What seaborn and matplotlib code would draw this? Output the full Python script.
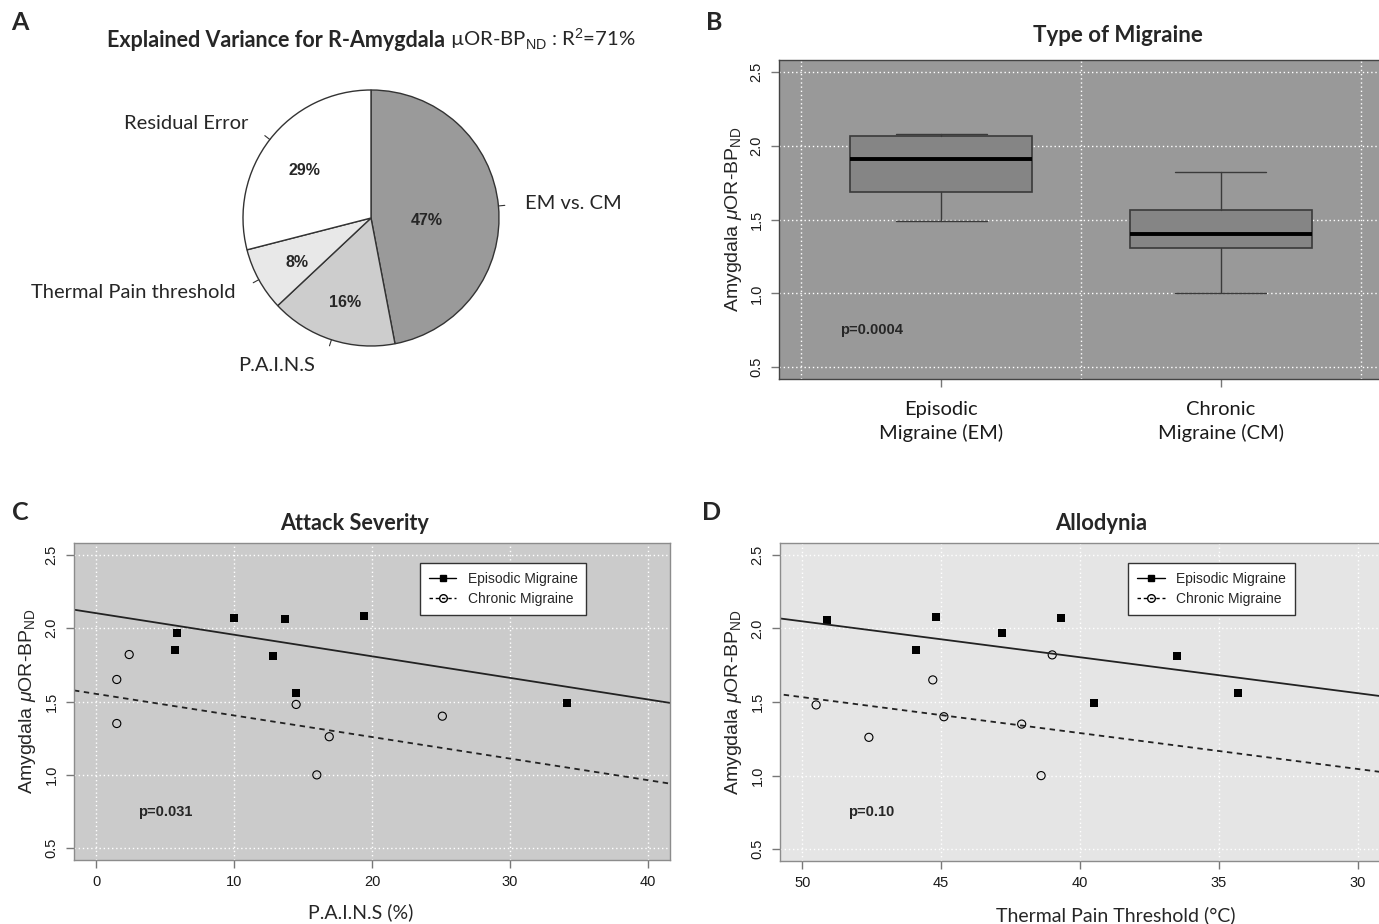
import numpy as np
import pandas as pd
import matplotlib
matplotlib.use("Agg")
import matplotlib.pyplot as plt
from matplotlib.lines import Line2D
import seaborn as sns

sns.set_style("white")
plt.rcParams['font.family'] = ['Liberation Sans', 'DejaVu Sans']
plt.rcParams['mathtext.fontset'] = 'custom'
plt.rcParams['mathtext.rm'] = 'Liberation Sans'
plt.rcParams['mathtext.it'] = 'Liberation Sans:italic'
plt.rcParams['mathtext.bf'] = 'Liberation Sans:bold'

# Panel A: explained variance of the model
pie_labels = ["EM vs. CM", "P.A.I.N.S", "Thermal Pain threshold", "Residual Error"]
pie_values = [47, 16, 8, 29]
pie_colors = ["#9a9a9a", "#cdcdcd", "#e8e8e8", "#ffffff"]

em_bp = [2.06, 1.85, 2.08, 1.97, 2.07, 1.49, 1.81, 1.56]
em_pains = [13.7, 5.7, 19.4, 5.9, 10.0, 34.1, 12.8, 14.5]
em_thermal = [49.1, 45.9, 45.2, 42.8, 40.7, 39.5, 36.5, 34.3]
cm_bp = [1.48, 1.26, 1.65, 1.40, 1.35, 1.82, 1.00]
cm_pains = [14.5, 16.9, 1.5, 25.1, 1.5, 2.4, 16.0]
cm_thermal = [49.5, 47.6, 45.3, 44.9, 42.1, 41.0, 41.4]

# fitted lines (intercept, slope) from the model
c_fit_em = (2.102, -0.0147)
c_fit_cm = (1.552, -0.0147)
d_fit_em = (0.828, 0.0244)
d_fit_cm = (0.313, 0.0244)

group_names = ["Episodic Migraine", "Chronic Migraine"]
box_ticklabels = ["Episodic\nMigraine (EM)", "Chronic\nMigraine (CM)"]
y_ticks = [0.5, 1.0, 1.5, 2.0, 2.5]

df = pd.DataFrame({
    "group": ["EM"] * len(em_bp) + ["CM"] * len(cm_bp),
    "bp": em_bp + cm_bp,
    "pains": em_pains + cm_pains,
    "thermal": em_thermal + cm_thermal,
})

W, H = 1379, 924
fig = plt.figure(figsize=(W / 100, H / 100), dpi=100)


def add_ax(l, t, r, b):
    return fig.add_axes([l / W, 1 - b / H, (r - l) / W, (b - t) / H])


def fivenum(v):
    # Tukey hinges, same as R's boxplot
    v = np.sort(np.asarray(v))
    n = len(v)
    n4 = np.floor((n + 3) / 2) / 2
    d = np.array([1, n4, (n + 1) / 2, n + 1 - n4, n]) - 1
    return 0.5 * (v[np.floor(d).astype(int)] + v[np.ceil(d).astype(int)])


def style_axes(ax, bg, spine, axw):
    ax.set_facecolor(bg)
    for s in ax.spines.values():
        s.set_visible(True)
        s.set_color(spine)
        s.set_linewidth(1)
    ax.set_axisbelow(True)
    ax.tick_params(axis='both', which='major', direction='out', length=6, width=1,
                   color='#777777', labelsize=10.5, labelcolor='#1a1a1a', pad=5,
                   bottom=True, left=True)
    ax.tick_params(axis='y', labelrotation=90)
    ax.set_ylim(0.42, 2.58)
    ax.set_yticks(y_ticks)
    ax.set_yticklabels([f"{t:.1f}" for t in y_ticks])
    for lab in ax.get_yticklabels():
        lab.set_va('center')
    ax.set_ylabel(r"Amygdala $\mu$OR-BP$_{\mathrm{ND}}$", fontsize=14)
    ax.yaxis.set_label_coords(-46 / axw, 0.5)
    ax.yaxis.label.set_va('center')


def add_legend(ax):
    handles = [
        Line2D([], [], color='black', lw=1, marker='s', markersize=5, linestyle='-'),
        Line2D([], [], color='black', lw=1, marker='o', markersize=5.5,
               markerfacecolor='none', linestyle=(0, (2.5, 2))),
    ]
    leg = ax.legend(handles, group_names, loc='upper left', bbox_to_anchor=(0.58, 0.937),
                    frameon=True, fancybox=False, edgecolor='#333333', framealpha=1,
                    fontsize=10, handlelength=2.0, handletextpad=0.8, borderpad=0.65,
                    labelspacing=0.4, borderaxespad=0)
    leg.get_frame().set_linewidth(1)


# ---------------- Panel A ----------------
axA = add_ax(371 - 204.8, 218 - 204.8, 371 + 204.8, 218 + 204.8)
wedges, texts, autotexts = axA.pie(
    pie_values, labels=pie_labels, colors=pie_colors, startangle=90, counterclock=False,
    labeldistance=1.21, pctdistance=0.66, autopct=lambda p: f"{p:.0f}%",
    wedgeprops=dict(edgecolor='#333333', linewidth=1))
for t in texts:
    t.set_fontfamily('Lato')
    t.set_fontsize(14.5)
lx, ly = texts[1].get_position()
texts[1].set_position((lx - 0.06, ly))
for t in autotexts:
    t.set_fontsize(11.5)
    t.set_fontweight('bold')
    x0, y0 = t.get_position()
    t.set_position((x0, y0 - 0.03))
x0, y0 = autotexts[0].get_position()
autotexts[0].set_position((x0 * 0.44 / 0.66, y0 * 0.44 / 0.66 - 0.04))
cum = np.cumsum([0] + pie_values[:-1])
for c, v in zip(cum, pie_values):
    ang = np.deg2rad(90 - 360 * (c + v / 2) / sum(pie_values))
    axA.plot([np.cos(ang), 1.05 * np.cos(ang)], [np.sin(ang), 1.05 * np.sin(ang)],
             color='#333333', lw=0.8)
axA.set_xlim(-1.6, 1.6)
axA.set_ylim(-1.6, 1.6)
axA.axis('off')

fig.text(445 / W, 1 - 47 / H, "Explained Variance for R-Amygdala", ha='right', va='baseline',
         family='Lato', weight='bold', size=15.5)
fig.text(450 / W, 1 - 47 / H, "\u00b5OR-BP$_{\\mathrm{ND}}$ : R$^{2}$=71%", ha='left',
         va='baseline', family='Lato', size=14.6)

# ---------------- Panel B ----------------
axB = add_ax(779, 60, 1383, 379)
stats = []
for g, lab in zip(["EM", "CM"], box_ticklabels):
    lo, q1, med, q3, hi = fivenum(df.loc[df.group == g, "bp"])
    stats.append(dict(label=lab, whislo=lo, q1=q1, med=med, q3=q3, whishi=hi, fliers=[]))
axB.bxp(stats, positions=[1, 2], widths=0.65, capwidths=0.325, patch_artist=True,
        showfliers=False,
        boxprops=dict(facecolor='#858585', edgecolor='#3a3a3a', linewidth=1.2),
        medianprops=dict(color='black', linewidth=2.8),
        whiskerprops=dict(color='#3a3a3a', linewidth=1),
        capprops=dict(color='#3a3a3a', linewidth=1))
style_axes(axB, '#999999', '#444444', 604)
axB.set_xlim(0.42, 2.58)
axB.set_xticks([1, 2])
axB.set_xticklabels(box_ticklabels, family='Lato', fontsize=14.5, linespacing=1.4)
axB.set_xticks([0.5, 1.5, 2.5], minor=True)
axB.tick_params(axis='x', which='minor', length=0)
axB.tick_params(axis='x', which='major', pad=9.5)
axB.grid(True, which='minor', axis='x', color='white', linestyle=(0, (1, 2)), linewidth=1)
axB.grid(True, which='major', axis='y', color='white', linestyle=(0, (1, 2)), linewidth=1)
axB.grid(False, which='major', axis='x')
axB.text(0.75, 0.75, "p=0.0004", ha='center', va='center', fontsize=10.5, fontweight='bold')
fig.text(1118 / W, 1 - 36 / H, "Type of Migraine", ha='center', va='center',
         family='Lato', weight='bold', size=16)

# ---------------- Panel C ----------------
axC = add_ax(74, 543, 670, 860)
style_axes(axC, '#cbcbcb', '#8c8c8c', 596)
axC.grid(True, color='white', linestyle=(0, (1, 2)), linewidth=1)
em = df[df.group == "EM"]
cm = df[df.group == "CM"]
sns.scatterplot(x=em["pains"], y=em["bp"], marker='s', color='black', s=30, linewidth=0, ax=axC)
sns.scatterplot(x=cm["pains"], y=cm["bp"], marker='o', facecolors='none', edgecolor='black',
                s=34, linewidth=0.8, ax=axC)
axC.axline((0, c_fit_em[0]), slope=c_fit_em[1], color='#222222', lw=1.3)
axC.axline((0, c_fit_cm[0]), slope=c_fit_cm[1], color='#222222', lw=1.3, linestyle=(0, (3, 2.5)))
axC.set_xlim(-1.6, 41.6)
axC.set_xticks([0, 10, 20, 30, 40])
axC.set_xlabel("P.A.I.N.S (%)", family='Lato', fontsize=14)
axC.xaxis.set_label_coords((361 - 74) / 596, -(912 - 860) / 317)
axC.xaxis.label.set_va('center')
axC.text(5, 0.75, "p=0.031", ha='center', va='center', fontsize=10.5, fontweight='bold')
add_legend(axC)
fig.text(355 / W, 1 - 524 / H, "Attack Severity", ha='center', va='center',
         family='Lato', weight='bold', size=15.6)

# ---------------- Panel D ----------------
axD = add_ax(780, 543, 1380, 861)
style_axes(axD, '#e5e5e5', '#8c8c8c', 600)
axD.grid(True, color='white', linestyle=(0, (1, 2)), linewidth=1)
sns.scatterplot(x=em["thermal"], y=em["bp"], marker='s', color='black', s=30, linewidth=0, ax=axD)
sns.scatterplot(x=cm["thermal"], y=cm["bp"], marker='o', facecolors='none', edgecolor='black',
                s=34, linewidth=0.8, ax=axD)
axD.axline((0, d_fit_em[0]), slope=d_fit_em[1], color='#222222', lw=1.3)
axD.axline((0, d_fit_cm[0]), slope=d_fit_cm[1], color='#222222', lw=1.3, linestyle=(0, (3, 2.5)))
axD.set_xlim(50.8, 29.2)
axD.set_xticks([50, 45, 40, 35, 30])
axD.set_xlabel("Thermal Pain Threshold (\u00b0C)", family='Lato', fontsize=14)
axD.xaxis.set_label_coords((1116 - 780) / 600, -(915 - 861) / 318)
axD.xaxis.label.set_va('center')
axD.text(47.5, 0.75, "p=0.10", ha='center', va='center', fontsize=10.5, fontweight='bold')
add_legend(axD)
fig.text(1101 / W, 1 - 524 / H, "Allodynia", ha='center', va='center',
         family='Lato', weight='bold', size=15.8)

# panel letters
for letter, (lx, ly) in zip("ABCD", [(20, 22), (714, 22), (20, 513), (712, 513)]):
    fig.text(lx / W, 1 - ly / H, letter, ha='center', va='center',
             family='Lato', weight='bold', size=18)

fig.savefig("out.png", dpi=100)
